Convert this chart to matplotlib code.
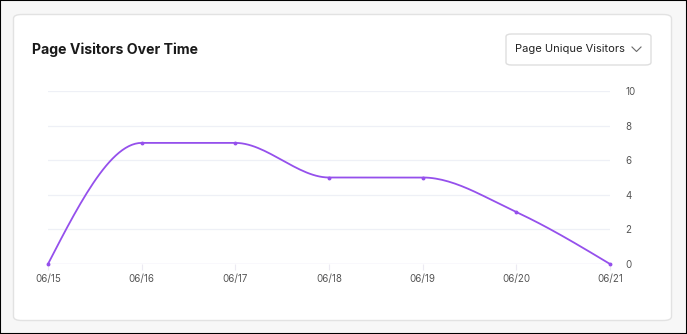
import numpy as np
import matplotlib
matplotlib.use('Agg')
import matplotlib.pyplot as plt
from matplotlib.patches import FancyBboxPatch, Rectangle

# data
dates = ['06/15', '06/16', '06/17', '06/18', '06/19', '06/20', '06/21']
visitors = [0, 7, 7, 5, 5, 3, 0]
y_ticks = [0, 2, 4, 6, 8, 10]

title = 'Page Visitors Over Time'
dropdown = 'Page Unique Visitors'
line_color = '#9550ec'

plt.rcParams['font.family'] = ['Inter', 'DejaVu Sans']

W, H = 687, 334


def monotone_x(x, y, n=30):
    # d3 curveMonotoneX style smoothing between the data points
    x = np.asarray(x, float)
    y = np.asarray(y, float)
    h = np.diff(x)
    s = np.diff(y) / h
    t = np.zeros(len(x))
    for i in range(1, len(x) - 1):
        p = (s[i - 1] * h[i] + s[i] * h[i - 1]) / (h[i - 1] + h[i])
        t[i] = (np.sign(s[i - 1]) + np.sign(s[i])) * min(abs(s[i - 1]), abs(s[i]), 0.5 * abs(p))
    t[0] = (3 * s[0] - t[1]) / 2
    t[-1] = (3 * s[-1] - t[-2]) / 2
    xs, ys = [], []
    u = np.linspace(0, 1, n)
    for i in range(len(x) - 1):
        dx = h[i] / 3
        p0 = (x[i], y[i])
        p1 = (x[i] + dx, y[i] + dx * t[i])
        p2 = (x[i + 1] - dx, y[i + 1] - dx * t[i + 1])
        p3 = (x[i + 1], y[i + 1])
        b = [(1 - u) ** 3, 3 * (1 - u) ** 2 * u, 3 * (1 - u) * u ** 2, u ** 3]
        xs.extend(b[0] * p0[0] + b[1] * p1[0] + b[2] * p2[0] + b[3] * p3[0])
        ys.extend(b[0] * p0[1] + b[1] * p1[1] + b[2] * p2[1] + b[3] * p3[1])
    return np.array(xs), np.array(ys)


fig = plt.figure(figsize=(W / 100, H / 100), dpi=100)
fig.patch.set_facecolor('#f7f7f7')

# outer frame and card (kept behind the axes)
fig.patches.append(Rectangle((0, 0), 1, 1, transform=fig.transFigure, zorder=-10,
                             fill=False, edgecolor='black', linewidth=1.5))
fig.patches.append(FancyBboxPatch((13.5 / W, (H - 320.5) / H), 658 / W, 306 / H,
                                  boxstyle='round,pad=0,rounding_size=0.012',
                                  transform=fig.transFigure, facecolor='white',
                                  edgecolor='#e2e2e2', linewidth=1, zorder=-10))
fig.text(32 / W, 1 - 50 / H, title, fontsize=10.2, fontweight='bold',
         color='#1a1a1a', va='center', ha='left')

# dropdown box
fig.patches.append(FancyBboxPatch((506 / W, (H - 65) / H), 145 / W, 31 / H,
                                  boxstyle='round,pad=0,rounding_size=0.008',
                                  transform=fig.transFigure, facecolor='white',
                                  edgecolor='#dedede', linewidth=1, zorder=-5))
fig.text(515 / W, 1 - 49.5 / H, dropdown, fontsize=8, color='#222222',
         va='center', ha='left')
fig.lines.append(plt.Line2D([632 / W, 636.5 / W, 641 / W],
                            [1 - 47 / H, 1 - 51.5 / H, 1 - 47 / H],
                            transform=fig.transFigure, color='#6a6a6a', linewidth=0.8))

ax = fig.add_axes([48 / W, (H - 264) / H, 562 / W, 173 / H])
ax.set_facecolor('none')
x = np.arange(len(dates))
cx, cy = monotone_x(x, visitors)
ax.plot(cx, cy, color=line_color, linewidth=1.3, solid_capstyle='round', clip_on=False)
ax.plot(x, visitors, 'o', color=line_color, markersize=1.8, clip_on=False)

ax.set_xlim(0, len(dates) - 1)
ax.set_ylim(0, 10)
ax.set_xticks(x)
ax.set_xticklabels(dates)
ax.set_yticks(y_ticks)
ax.yaxis.tick_right()
for s in ax.spines.values():
    s.set_visible(False)
ax.grid(axis='y', color='#eef0f6', linewidth=0.9)
ax.axhline(0, color='#ebe8f8', linewidth=1, zorder=0)
ax.tick_params(axis='y', length=0, pad=11, labelsize=7, labelcolor='#555555')
ax.tick_params(axis='x', length=4, width=0.8, color='#eceaf2', pad=3,
               labelsize=7, labelcolor='#555555')

fig.savefig('out.png', dpi=100, facecolor=fig.get_facecolor())
